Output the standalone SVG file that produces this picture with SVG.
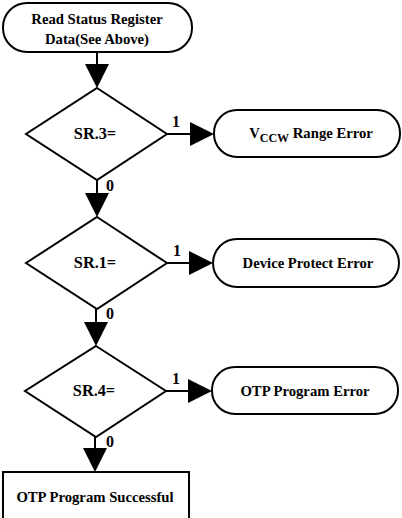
<svg xmlns="http://www.w3.org/2000/svg" width="402" height="518" viewBox="0 0 402 518">
<style>
.shape{fill:#fff;stroke:#000;stroke-width:2}
.line{fill:none;stroke:#000;stroke-width:2}
.head{fill:#000;stroke:none}
text{font-family:"Liberation Serif","Times New Roman",serif;font-weight:bold;font-size:14.7px;fill:#000}
.c{text-anchor:middle}
.sr{font-size:16.3px}
.lbl{font-size:16px}
</style>
<rect width="402" height="518" fill="#fff"/>
<g id="connectors">
<line class="line" x1="97" y1="52" x2="97" y2="66"/>
<polygon class="head" points="85,64 109,64 97,88"/>
<line class="line" x1="167" y1="134" x2="192" y2="134"/>
<polygon class="head" points="190,122 190,146 214,134"/>
<line class="line" x1="97" y1="180" x2="97" y2="195"/>
<polygon class="head" points="85,193 109,193 97,217"/>
<line class="line" x1="167" y1="263" x2="191" y2="263"/>
<polygon class="head" points="189,251 189,275 213,263"/>
<line class="line" x1="96" y1="309" x2="96" y2="324"/>
<polygon class="head" points="84,322 108,322 96,346"/>
<line class="line" x1="166" y1="391" x2="190" y2="391"/>
<polygon class="head" points="188,379 188,403 212,391"/>
<line class="line" x1="95" y1="437" x2="95" y2="450"/>
<polygon class="head" points="83,448 107,448 95,472"/>
<text class="lbl" x="172" y="127">1</text>
<text class="lbl" x="173" y="256">1</text>
<text class="lbl" x="172" y="384">1</text>
<text class="lbl" x="106" y="191">0</text>
<text class="lbl" x="106" y="319">0</text>
<text class="lbl" x="106" y="447">0</text>
</g>
<g id="start">
<rect class="shape" x="3" y="3" width="189" height="49" rx="24" ry="24"/>
<text class="c" x="97" y="24">Read Status Register</text>
<text class="c" x="97" y="44">Data(See Above)</text>
</g>
<g id="sr3">
<polygon class="shape" points="97,88 167,134 97,180 26,134"/>
<text class="c sr" x="95" y="139">SR.3=</text>
</g>
<g id="vccw-error">
<rect class="shape" x="214" y="110" width="186" height="47" rx="23" ry="23"/>
<text class="c" x="311" y="138">V<tspan dy="4" font-size="12px">CCW</tspan><tspan dy="-4"> Range Error</tspan></text>
</g>
<g id="sr1">
<polygon class="shape" points="97,217 167,263 97,309 26,263"/>
<text class="c sr" x="95" y="268">SR.1=</text>
</g>
<g id="protect-error">
<rect class="shape" x="213" y="239" width="186" height="48" rx="24" ry="24"/>
<text class="c" x="308" y="268">Device Protect Error</text>
</g>
<g id="sr4">
<polygon class="shape" points="96,346 166,391 96,437 25,391"/>
<text class="c sr" x="94" y="396">SR.4=</text>
</g>
<g id="otp-error">
<rect class="shape" x="212" y="367" width="186" height="47" rx="23" ry="23"/>
<text class="c" x="305" y="396">OTP Program Error</text>
</g>
<g id="success">
<rect class="shape" x="3" y="472" width="186" height="60"/>
<text class="c" x="95" y="502">OTP Program Successful</text>
</g>
</svg>
